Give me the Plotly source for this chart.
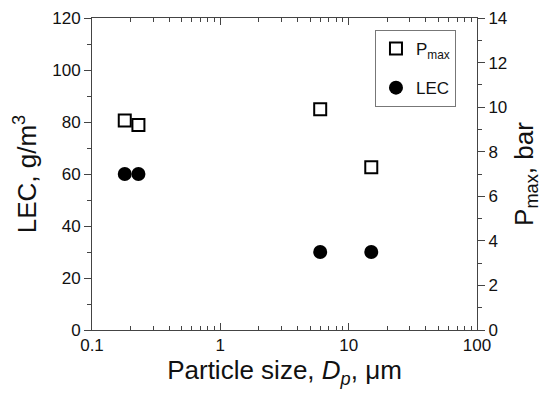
import plotly.graph_objects as go

# Data
particle_size_um = [0.18, 0.23, 6.0, 15.0]
lec_g_m3 = [60, 60, 30, 30]
pmax_bar = [9.4, 9.2, 9.9, 7.3]

x_tick_vals = [0.1, 1, 10, 100]
x_tick_text = ["0.1", "1", "10", "100"]

FONT = "Arial, Liberation Sans, sans-serif"
AXIS_COLOR = "#444444"

minor_x = [m * 10 ** e for e in (-1, 0, 1) for m in range(2, 10)]

fig = go.Figure()
fig.add_trace(go.Scatter(
    x=particle_size_um, y=pmax_bar, yaxis="y2", mode="markers",
    name="P<sub>max</sub>", legendgroup="p",
    marker=dict(symbol="square-open", size=12, color="black",
                line=dict(width=2, color="black")),
))
fig.add_trace(go.Scatter(
    x=particle_size_um, y=lec_g_m3, mode="markers",
    name="LEC", legendgroup="l",
    marker=dict(symbol="circle", size=14, color="black"),
))

# page body has an 8px default margin, so the figure is sized/offset for it
fig.update_layout(
    width=541, height=388,
    margin=dict(l=84, r=72, t=10, b=66),
    paper_bgcolor="white", plot_bgcolor="white",
    font=dict(family=FONT, size=17, color="#111111"),
    showlegend=True,
    legend=dict(
        x=0.735, y=0.9615, xanchor="left", yanchor="top",
        bordercolor="#777777", borderwidth=1, bgcolor="white",
        font=dict(family=FONT, size=17, color="#111111"),
        traceorder="grouped", tracegroupgap=14,
        itemsizing="trace", entrywidth=52, entrywidthmode="pixels",
    ),
    xaxis=dict(
        type="log", range=[-1, 2], automargin=False,
        tickmode="array", tickvals=x_tick_vals, ticktext=x_tick_text,
        ticks="inside", ticklen=7, tickcolor=AXIS_COLOR,
        minor=dict(ticks="inside", ticklen=4, tickcolor=AXIS_COLOR,
                   tickmode="array", tickvals=minor_x),
        showline=True, linecolor=AXIS_COLOR, linewidth=1, mirror="ticks",
        showgrid=False, zeroline=False,
        tickfont=dict(size=17),
        title=dict(text="Particle size, <i>D</i><sub><i>p</i></sub>, μm",
                   font=dict(size=26), standoff=6),
    ),
    yaxis=dict(
        range=[0, 120], dtick=20, tick0=0, automargin=False,
        ticks="outside", ticklen=7, tickcolor=AXIS_COLOR,
        minor=dict(ticks="outside", ticklen=4, dtick=10, tickcolor=AXIS_COLOR),
        showline=True, linecolor=AXIS_COLOR, linewidth=1,
        showgrid=False, zeroline=False,
        tickfont=dict(size=17),
        title=dict(text="LEC, g/m<sup>3</sup>", font=dict(size=26), standoff=8),
    ),
    yaxis2=dict(
        overlaying="y", side="right", automargin=False,
        range=[0, 14], dtick=2, tick0=0,
        ticks="outside", ticklen=7, tickcolor=AXIS_COLOR,
        minor=dict(ticks="outside", ticklen=4, dtick=1, tickcolor=AXIS_COLOR),
        showline=True, linecolor=AXIS_COLOR, linewidth=1,
        showgrid=False, zeroline=False,
        tickfont=dict(size=17),
        title=dict(text="P<sub>max</sub>, bar", font=dict(size=26), standoff=8),
    ),
)

fig.write_html("out.html")
